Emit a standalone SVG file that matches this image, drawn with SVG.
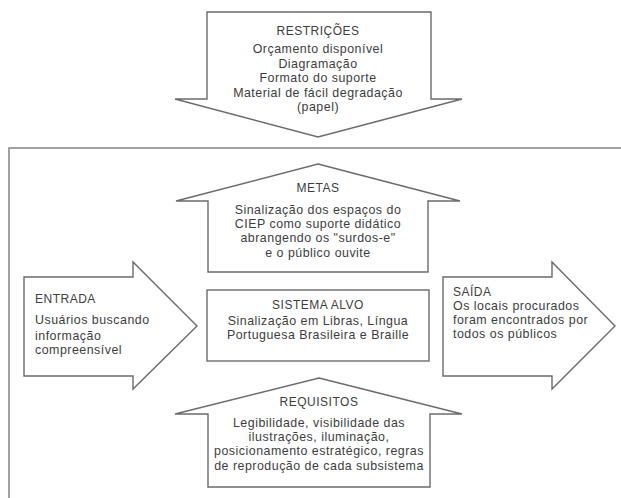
<svg xmlns="http://www.w3.org/2000/svg" width="621" height="498" viewBox="0 0 621 498">
<style>
  .shape { fill: #ffffff; stroke: #6b6b6b; stroke-width: 1.4; stroke-linejoin: miter; }
  .frame { fill: none; stroke: #8a8a8a; stroke-width: 1.6; }
  text { font-family: "Liberation Sans", Arial, sans-serif; font-size: 12.4px; letter-spacing: 0.5px; fill: #3d3d3d; }
  .c { text-anchor: middle; }
  .t { font-size: 12px; }
</style>
<rect width="621" height="498" fill="#ffffff"/>
<g id="frame">
  <rect class="frame" x="9" y="148" width="620" height="360"/>
</g>
<g id="connectors"/>
<g id="restricoes">
  <polygon class="shape" points="207,12 431,12 431,99 462,99 318,137 175,99 207,99"/>
  <text class="c t" x="318" y="35">RESTRIÇÕES</text>
  <text class="c" x="318" y="53">Orçamento disponível</text>
  <text class="c" x="318" y="67.5">Diagramação</text>
  <text class="c" x="318" y="82">Formato do suporte</text>
  <text class="c" x="318" y="96.5">Material de fácil degradação</text>
  <text class="c" x="318" y="111">(papel)</text>
</g>
<g id="metas">
  <polygon class="shape" points="318,164 460,201 428,201 428,272 208,272 208,201 176,201"/>
  <text class="c t" x="318" y="192">METAS</text>
  <text class="c" x="318" y="214">Sinalização dos espaços do</text>
  <text class="c" x="318" y="228.2">CIEP como suporte didático</text>
  <text class="c" x="318" y="242.4">abrangendo os "surdos-e"</text>
  <text class="c" x="318" y="256.6">e o público ouvite</text>
</g>
<g id="entrada">
  <polygon class="shape" points="24,277 133,277 133,262 197,326 133,389 133,376 24,376"/>
  <text class="t" x="35" y="303">ENTRADA</text>
  <text x="35" y="324">Usuários buscando</text>
  <text x="35" y="339.5">informação</text>
  <text x="35" y="354">compreensível</text>
</g>
<g id="sistema-alvo">
  <rect class="shape" x="207" y="290" width="222" height="71"/>
  <text class="c t" x="318" y="309">SISTEMA ALVO</text>
  <text class="c" x="318" y="325">Sinalização em Libras, Língua</text>
  <text class="c" x="318" y="339.2">Portuguesa Brasileira e Braille</text>
</g>
<g id="saida">
  <polygon class="shape" points="443,277 552,277 552,262 615,326 552,389 552,376 443,376"/>
  <text class="t" x="453" y="295.5">SAÍDA</text>
  <text x="453" y="309.5">Os locais procurados</text>
  <text x="453" y="323.7">foram encontrados por</text>
  <text x="453" y="337.9">todos os públicos</text>
</g>
<g id="requisitos">
  <polygon class="shape" points="319,378 462,414 430,414 430,487 208,487 208,414 175,414"/>
  <text class="c t" x="319" y="406">REQUISITOS</text>
  <text class="c" x="319" y="427">Legibilidade, visibilidade das</text>
  <text class="c" x="319" y="441.2">ilustrações, iluminação,</text>
  <text class="c" x="319" y="455.4">posicionamento estratégico, regras</text>
  <text class="c" x="319" y="469.6">de reprodução de cada subsistema</text>
</g>
</svg>
